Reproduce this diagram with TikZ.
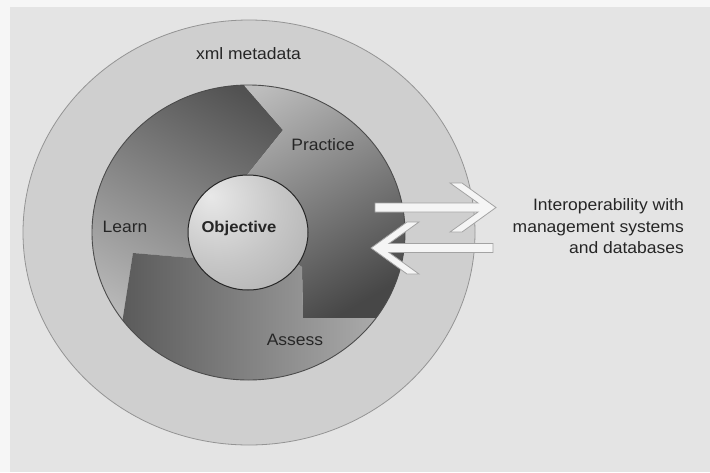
\documentclass[tikz,border=0pt]{standalone}
\usepackage{fontspec}
\setmainfont{Liberation Sans}[FakeStretch=1.06]
\definecolor{paper}{gray}{0.965}
\definecolor{bg}{gray}{0.895}
\definecolor{ringfill}{gray}{0.81}
\definecolor{ringline}{gray}{0.58}
\definecolor{coreline}{gray}{0.3}
\definecolor{ink}{gray}{0.15}
\definecolor{learnLite}{gray}{0.72}
\definecolor{learnDark}{gray}{0.32}
\definecolor{practLite}{gray}{0.74}
\definecolor{practDark}{gray}{0.28}
\definecolor{assessLite}{gray}{0.72}
\definecolor{assessDark}{gray}{0.28}
\definecolor{orbhi}{gray}{0.91}
\definecolor{orbmid}{gray}{0.78}
\definecolor{orbedge}{gray}{0.56}
\definecolor{arrowfill}{gray}{0.96}
\definecolor{arrowline}{gray}{0.64}
\pgfdeclareradialshading{orb}{\pgfpoint{-16bp}{16bp}}{%
  color(0bp)=(orbhi); color(25bp)=(orbmid); color(75bp)=(orbedge); color(100bp)=(orbedge)}
\begin{document}
\begin{tikzpicture}[x=1pt,y=-1pt,
  lbl/.style={text=ink, font=\fontsize{16.5}{21.5}\selectfont, inner sep=0pt},
  blockarrow/.style={fill=arrowfill, draw=arrowline, line width=0.8pt, line join=miter}]
% page and background
\useasboundingbox (0,0) rectangle (710,472);
\fill[paper] (0,0) rectangle (710,472);
\fill[bg] (10,7) rectangle (710,472);

% outer ring: xml metadata
\draw[fill=ringfill, draw=ringline, line width=0.8pt]
  (249,232.5) ellipse [x radius=226, y radius=212.5];

% the three cycle segments, clipped to the core disc
\begin{scope}
  \clip (248.5,232.5) ellipse [x radius=156.5, y radius=147.5];
  % Learn
  \shade[top color=learnDark, bottom color=learnLite, shading angle=-30]
    (60,60) -- (222,60) -- (283,130) -- (247,175) -- (248,232) -- (192,258)
    -- (133,253) -- (121,330) -- (60,330) -- cycle;
  % Practice
  \shade[top color=practLite, bottom color=practDark, shading angle=30]
    (222,60) -- (420,60) -- (420,318) -- (303,318) -- (302,267) -- (248,232)
    -- (247,175) -- (283,130) -- cycle;
  % Assess
  \shade[left color=assessDark, right color=assessLite]
    (60,330) -- (121,330) -- (133,253) -- (192,258) -- (248,232) -- (302,267)
    -- (303,318) -- (420,318) -- (420,400) -- (60,400) -- cycle;
\end{scope}
\draw[coreline, line width=0.9pt] (248.5,232.5) ellipse [x radius=156.5, y radius=147.5];

% central sphere
\shade[shading=orb] (248,232.5) ellipse [x radius=60, y radius=57.5];
\draw[ink, line width=1pt] (248,232.5) ellipse [x radius=60, y radius=57.5];

% exchange arrows
\draw[blockarrow] (375,203) -- (478,203) -- (450,183) -- (462,183) -- (496,207.5)
  -- (462,232) -- (450,232) -- (478,212) -- (375,212) -- cycle;
\draw[blockarrow] (371,248) -- (407,222) -- (419,222) -- (389,243.5) -- (493,243.5)
  -- (493,252.5) -- (389,252.5) -- (419,274) -- (407,274) -- cycle;

% labels
\node[lbl] (meta) at (248.5,54) {xml metadata};
\node[lbl] (practice) at (323,145) {Practice};
\node[lbl] (learn) at (125,227) {Learn};
\node[lbl, font=\fontsize{15.7}{19}\selectfont\bfseries] (objective) at (239,228) {Objective};
\node[lbl] (assess) at (295,340) {Assess};
\node[lbl, align=right, anchor=east] (interop) at (684,226.5)
  {Interoperability with\\management systems\\and databases};
\end{tikzpicture}
\end{document}
